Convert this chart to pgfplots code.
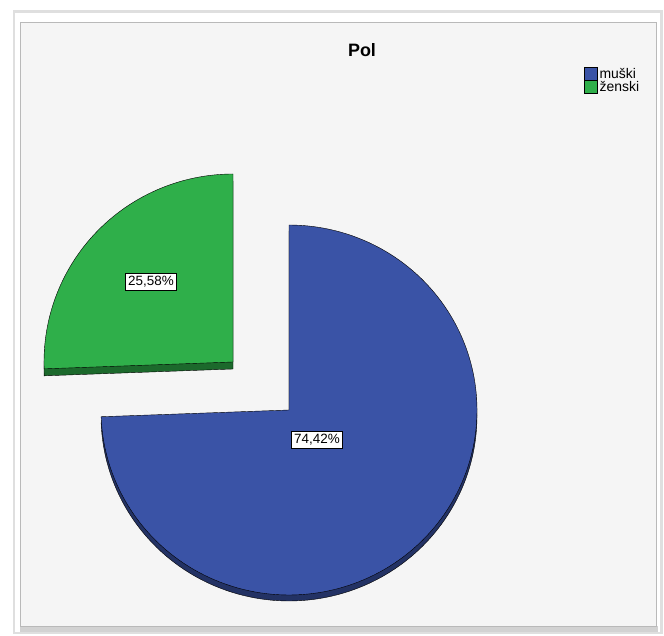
\documentclass[border=0pt]{standalone}
\usepackage{pgfplots}
\pgfplotsset{compat=1.18}
\usepackage{pgfplotstable}
\usepackage{fontspec}
\setmainfont{Liberation Sans}
\definecolor{pieblue}{HTML}{3A53A6}
\definecolor{piegreen}{HTML}{2FAF4A}
\definecolor{panel}{HTML}{F5F5F5}
% share of each category (percent)
\pgfplotstableread{
cat    pct
muski  74.42
zenski 25.58
}\pietable
\pgfmathsetmacro{\pA}{74.42}
\pgfmathsetmacro{\pB}{25.58}
\pgfmathsetmacro{\endA}{90-3.6*\pA}
\pgfmathsetmacro{\endB}{90+3.6*\pB}
\begin{document}
\begin{tikzpicture}
\begin{axis}[
  width=664bp, height=636bp, scale only axis,
  xmin=0, xmax=664, ymin=0, ymax=636,
  hide axis, clip=false,
  legend style={at={(axis cs:583,571)}, anchor=north west, draw=none, fill=none,
    font=\fontsize{14}{14}\selectfont, row sep=-2.5bp, inner sep=1bp,
    /tikz/every even column/.append style={column sep=1bp}},
  legend cell align=left,
  legend image code/.code={\fill[#1,draw=black,thin] (0bp,-6.5bp) rectangle (13bp,6.5bp);},
]
% frame
\fill[white] (0,0) rectangle (664,636);
\draw[gray!25, line width=3bp] (14,3) rectangle (661,624);
\fill[white] (15,4) rectangle (660,623);
\fill[gray!35] (20,4) rectangle (658,10);
\fill[panel] (20,10) rectangle (656,614);
\draw[gray!55, line width=0.8bp] (20,10) rectangle (656,614);

% depth (3D rim)
\addplot[forget plot, fill=pieblue!60!black, draw=black, thin, domain=\endA:90, samples=150, variable=\t]
  ({289+188*cos(t)}, {220+185*sin(t)}) -- (289,220) -- cycle;
\addplot[forget plot, fill=piegreen!60!black, draw=black, thin, domain=90:\endB, samples=80, variable=\t]
  ({233+189*cos(t)}, {267+188*sin(t)}) -- (233,267) -- cycle;

% slices
\addplot[fill=pieblue, draw=black, thin, domain=\endA:90, samples=150, variable=\t]
  ({289+188*cos(t)}, {226+185*sin(t)}) -- (289,226) -- cycle;
\addlegendentry{muški}
\addplot[fill=piegreen, draw=black, thin, domain=90:\endB, samples=80, variable=\t]
  ({233+189*cos(t)}, {274+188*sin(t)}) -- (233,274) -- cycle;
\addlegendentry{ženski}

% labels
\node[draw=black, line width=1bp, fill=white, inner sep=2.5bp, font=\fontsize{13.5}{14}\selectfont] at (317,196) {74,42\%};
\node[draw=black, line width=1bp, fill=white, inner sep=2.5bp, font=\fontsize{13.5}{14}\selectfont] at (151,354) {25,58\%};

% title
\node[font=\bfseries\fontsize{18}{20}\selectfont] at (362,586) {Pol};
\end{axis}
\end{tikzpicture}
\end{document}
